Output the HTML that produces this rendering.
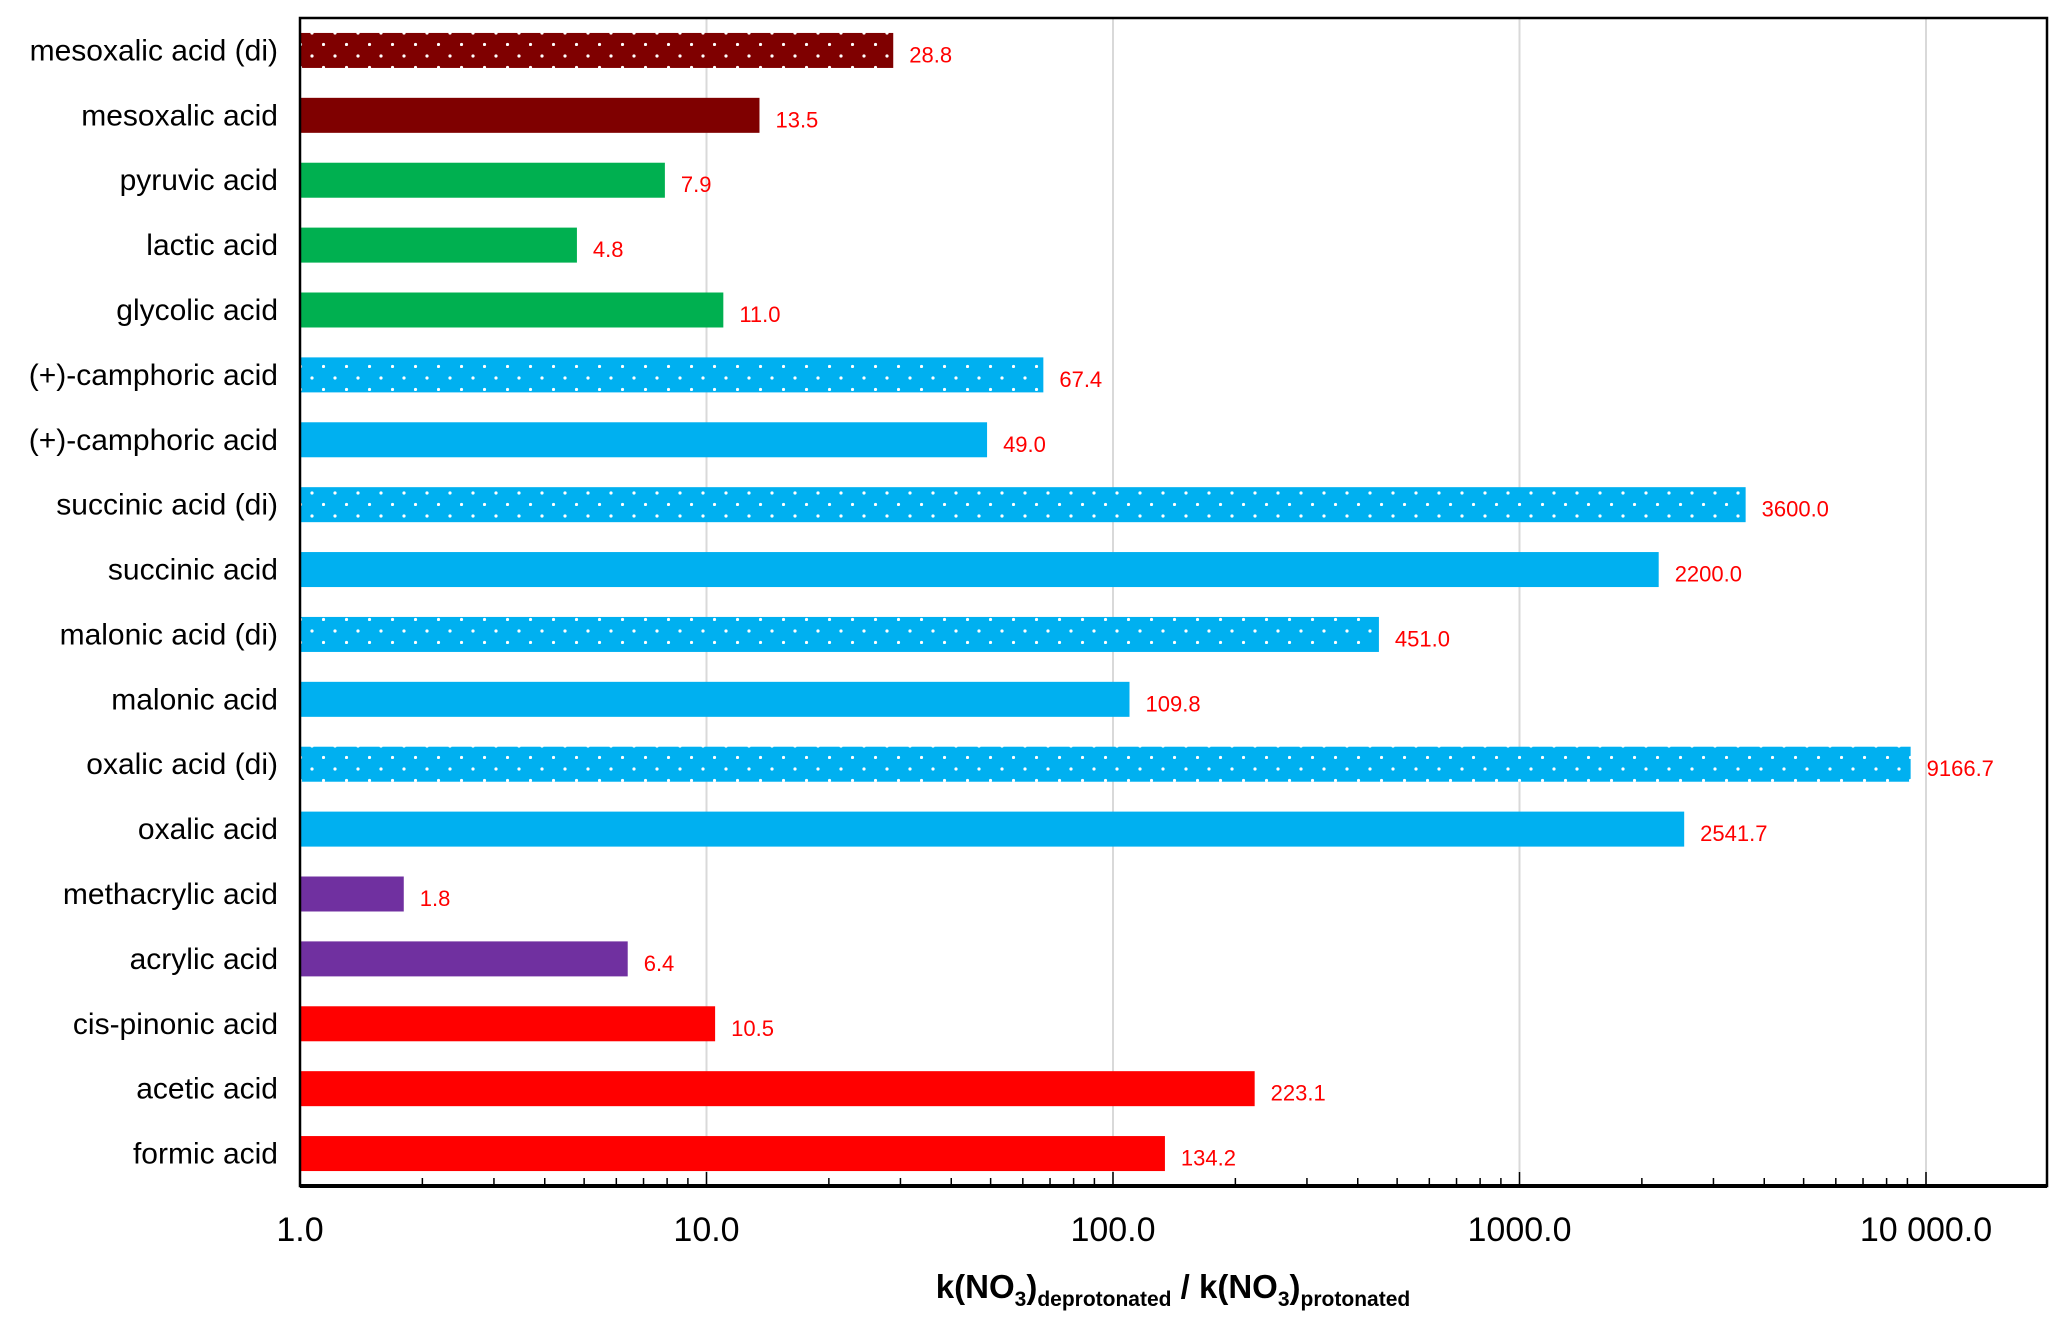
<!DOCTYPE html>
<html><head><meta charset="utf-8"><style>
html,body{margin:0;padding:0;background:#fff;}
svg{display:block;font-family:"Liberation Sans",sans-serif;}
</style></head><body>
<svg id="chart" width="2067" height="1325" viewBox="0 0 2067 1325">
<defs>
<pattern id="dotsBlue" width="23" height="23" patternUnits="userSpaceOnUse"><rect width="23" height="23" fill="#00b0f0"/><circle cx="13" cy="10" r="1.6" fill="#fff"/><circle cx="1.5" cy="21.5" r="1.6" fill="#fff"/></pattern>
<pattern id="dotsRed" width="23" height="23" patternUnits="userSpaceOnUse"><rect width="23" height="23" fill="#7f0000"/><circle cx="13" cy="10" r="1.6" fill="#fff"/><circle cx="1.5" cy="21.5" r="1.6" fill="#fff"/></pattern>
</defs>
<g id="grid"></g>
<g id="bars"></g>
<g id="axes"></g>
</svg>
<script>
const categories=["mesoxalic acid (di)","mesoxalic acid","pyruvic acid","lactic acid","glycolic acid","(+)-camphoric acid","(+)-camphoric acid","succinic acid (di)","succinic acid","malonic acid (di)","malonic acid","oxalic acid (di)","oxalic acid","methacrylic acid","acrylic acid","cis-pinonic acid","acetic acid","formic acid"];
const values=[28.8,13.5,7.9,4.8,11.0,67.4,49.0,3600.0,2200.0,451.0,109.8,9166.7,2541.7,1.8,6.4,10.5,223.1,134.2];
const groups=["dotsRed","#7f0000","#00b050","#00b050","#00b050","dotsBlue","#00b0f0","dotsBlue","#00b0f0","dotsBlue","#00b0f0","dotsBlue","#00b0f0","#7030a0","#7030a0","#ff0000","#ff0000","#ff0000"];
const tickValues=[1,10,100,1000,10000];
const tickLabels=["1.0","10.0","100.0","1000.0","10 000.0"];

const L=300,R=2047,T=18,B=1186,dec=406.5;
const NS="http://www.w3.org/2000/svg";
function x(v){return L+Math.log10(v)*dec;}
const band=(B-T)/categories.length;
function yc(i){return T+band*(i+0.5);}
function mk(tag,attrs,parent,text){const e=document.createElementNS(NS,tag);for(const k in attrs)e.setAttribute(k,attrs[k]);if(text!==undefined)e.textContent=text;parent.appendChild(e);return e;}
const grid=document.getElementById('grid'),bars=document.getElementById('bars'),axes=document.getElementById('axes');
tickValues.forEach((t,i)=>{
 if(i>0){const g=mk('line',{x1:x(t),x2:x(t),y1:T,y2:B,stroke:'#d9d9d9','stroke-width':2},grid);
 
 }
 const tl=mk('text',{x:x(t),y:1241,'text-anchor':'middle','font-size':34,fill:'#000'},axes,tickLabels[i]);
 
 
});
for(let d=0;d<5;d++){for(let m=2;m<=9;m++){const v=Math.pow(10,d)*m;if(x(v)>=R)continue;
 const tk=mk('line',{x1:x(v),x2:x(v),y1:B-8,y2:B,stroke:'#000','stroke-width':1.5},axes);
 
 }}
tickValues.forEach(t=>{const tk=mk('line',{x1:x(t),x2:x(t),y1:B-14,y2:B,stroke:'#000','stroke-width':1.5},axes);
 
 });
const bh=35;
categories.forEach((c,i)=>{
 const g=groups[i];const fill=g.startsWith('#')?g:'url(#'+g+')';
 const r=mk('rect',{x:L,y:yc(i)-bh/2,width:x(values[i])-L,height:bh,fill:fill},bars);
 
 
 const vl=mk('text',{x:x(values[i])+16,y:yc(i)+12,'font-size':22,fill:'#ff0000'},bars,values[i].toFixed(1));
 
 
 const cl=mk('text',{x:278,y:yc(i)+10,'text-anchor':'end','font-size':30,fill:'#000'},axes,c);
 
 
});
const fr=mk('rect',{x:L,y:T,width:R-L,height:B-T,fill:'none',stroke:'#000','stroke-width':2.5},axes);


const xa=mk('line',{x1:L,x2:R,y1:B,y2:B,stroke:'#000','stroke-width':4},axes);


const tt=mk('text',{x:1173,y:1298,'text-anchor':'middle','font-size':33,'font-weight':'bold',fill:'#000'},axes);


tt.innerHTML='k(NO<tspan font-size="21" dy="8">3</tspan><tspan dy="-8">)</tspan><tspan font-size="21" dy="8">deprotonated</tspan><tspan dy="-8"> / k(NO</tspan><tspan font-size="21" dy="8">3</tspan><tspan dy="-8">)</tspan><tspan font-size="21" dy="8">protonated</tspan>';
</script>
</body></html>
